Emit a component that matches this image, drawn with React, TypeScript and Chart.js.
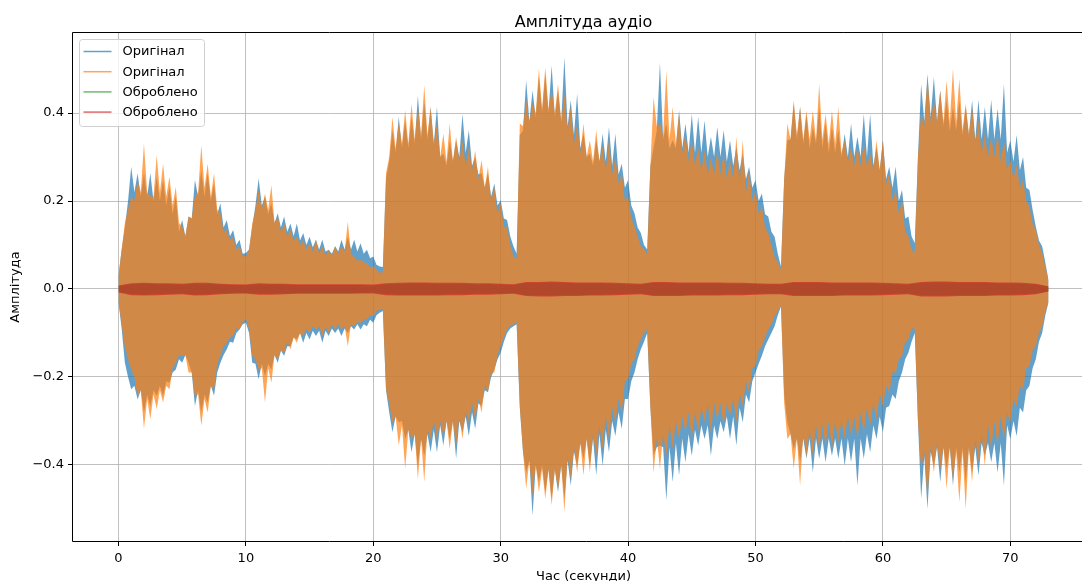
import React, { useEffect, useRef } from "react";
import { Chart, registerables } from "chart.js";

Chart.register(...registerables);

// ---- Data ----
// Sample times (s) of the spike-peak readings of the original signals
const TIME_PEAK = [
  0, 0.5, 1, 1.5, 2, 2.5, 3, 3.5, 4, 4.5,
  5, 5.5, 6, 6.5, 7, 7.5, 8, 8.5, 9, 9.5,
  10, 10.5, 11, 11.5, 12, 12.5, 13, 13.5, 14, 14.5,
  15, 15.5, 16, 16.5, 17, 17.5, 18, 18.5, 19, 19.5,
  20, 20.5, 21, 21.5, 22, 22.5, 23, 23.5, 24, 24.5,
  25, 25.5, 26, 26.5, 27, 27.5, 28, 28.5, 29, 29.5,
  30, 30.5, 31, 31.5, 32, 32.5, 33, 33.5, 34, 34.5,
  35, 35.5, 36, 36.5, 37, 37.5, 38, 38.5, 39, 39.5,
  40, 40.5, 41, 41.5, 42, 42.5, 43, 43.5, 44, 44.5,
  45, 45.5, 46, 46.5, 47, 47.5, 48, 48.5, 49, 49.5,
  50, 50.5, 51, 51.5, 52, 52.5, 53, 53.5, 54, 54.5,
  55, 55.5, 56, 56.5, 57, 57.5, 58, 58.5, 59, 59.5,
  60, 60.5, 61, 61.5, 62, 62.5, 63, 63.5, 64, 64.5,
  65, 65.5, 66, 66.5, 67, 67.5, 68, 68.5, 69, 69.5,
  70, 70.5, 71, 71.5, 72, 72.5, 73,
];
// Sample times (s) of the readings of the solid core between the spikes
const TIME_CORE = [
  0.25, 0.75, 1.25, 1.75, 2.25, 2.75, 3.25, 3.75, 4.25, 4.75,
  5.25, 5.75, 6.25, 6.75, 7.25, 7.75, 8.25, 8.75, 9.25, 9.75,
  10.25, 10.75, 11.25, 11.75, 12.25, 12.75, 13.25, 13.75, 14.25, 14.75,
  15.25, 15.75, 16.25, 16.75, 17.25, 17.75, 18.25, 18.75, 19.25, 19.75,
  20.25, 20.75, 21.25, 21.75, 22.25, 22.75, 23.25, 23.75, 24.25, 24.75,
  25.25, 25.75, 26.25, 26.75, 27.25, 27.75, 28.25, 28.75, 29.25, 29.75,
  30.25, 30.75, 31.25, 31.75, 32.25, 32.75, 33.25, 33.75, 34.25, 34.75,
  35.25, 35.75, 36.25, 36.75, 37.25, 37.75, 38.25, 38.75, 39.25, 39.75,
  40.25, 40.75, 41.25, 41.75, 42.25, 42.75, 43.25, 43.75, 44.25, 44.75,
  45.25, 45.75, 46.25, 46.75, 47.25, 47.75, 48.25, 48.75, 49.25, 49.75,
  50.25, 50.75, 51.25, 51.75, 52.25, 52.75, 53.25, 53.75, 54.25, 54.75,
  55.25, 55.75, 56.25, 56.75, 57.25, 57.75, 58.25, 58.75, 59.25, 59.75,
  60.25, 60.75, 61.25, 61.75, 62.25, 62.75, 63.25, 63.75, 64.25, 64.75,
  65.25, 65.75, 66.25, 66.75, 67.25, 67.75, 68.25, 68.75, 69.25, 69.75,
  70.25, 70.75, 71.25, 71.75, 72.25, 72.75,
];

// Original, channel 1 (blue)
const BLUE_PEAK_UP = [
  0.03, 0.14, 0.278, 0.263, 0.263, 0.263, 0.255, 0.248, 0.232, 0.21,
  0.157, 0.165, 0.248, 0.27, 0.263, 0.24, 0.195, 0.157, 0.134, 0.112,
  0.082, 0.142, 0.251, 0.21, 0.195, 0.172, 0.165, 0.149, 0.149, 0.127,
  0.119, 0.112, 0.112, 0.089, 0.097, 0.112, 0.119, 0.112, 0.104, 0.089,
  0.074, 0.051, 0.25, 0.361, 0.391, 0.383, 0.391, 0.44, 0.425, 0.414,
  0.414, 0.308, 0.338, 0.338, 0.398, 0.361, 0.3, 0.263, 0.263, 0.24,
  0.202, 0.157, 0.097, 0.35, 0.474, 0.451, 0.482, 0.489, 0.508, 0.451,
  0.527, 0.429, 0.444, 0.353, 0.308, 0.338, 0.353, 0.368, 0.353, 0.285,
  0.248, 0.172, 0.127, 0.09, 0.32, 0.515, 0.376, 0.338, 0.406, 0.376,
  0.398, 0.391, 0.383, 0.346, 0.368, 0.361, 0.338, 0.323, 0.308, 0.278,
  0.248, 0.217, 0.165, 0.119, 0.051, 0.338, 0.421, 0.414, 0.398, 0.368,
  0.414, 0.376, 0.368, 0.361, 0.353, 0.376, 0.346, 0.398, 0.398, 0.323,
  0.338, 0.278, 0.278, 0.225, 0.165, 0.104, 0.466, 0.489, 0.482, 0.451,
  0.429, 0.414, 0.429, 0.414, 0.429, 0.43, 0.414, 0.43, 0.41, 0.466,
  0.338, 0.35, 0.3, 0.225, 0.142, 0.097, 0.02,
];
const BLUE_CORE_UP = [
  0.09, 0.2, 0.22, 0.21, 0.21, 0.2, 0.2, 0.19, 0.17, 0.13,
  0.12, 0.16, 0.21, 0.21, 0.2, 0.17, 0.14, 0.12, 0.1, 0.08,
  0.09, 0.19, 0.19, 0.17, 0.15, 0.14, 0.13, 0.12, 0.11, 0.1,
  0.095, 0.09, 0.085, 0.08, 0.085, 0.09, 0.09, 0.085, 0.08, 0.07,
  0.055, 0.05, 0.29, 0.31, 0.32, 0.32, 0.33, 0.34, 0.34, 0.33,
  0.3, 0.28, 0.29, 0.3, 0.31, 0.28, 0.26, 0.23, 0.21, 0.19,
  0.16, 0.12, 0.08, 0.36, 0.38, 0.39, 0.4, 0.4, 0.39, 0.38,
  0.37, 0.35, 0.32, 0.3, 0.28, 0.29, 0.29, 0.28, 0.26, 0.23,
  0.19, 0.14, 0.1, 0.28, 0.36, 0.34, 0.32, 0.32, 0.32, 0.31,
  0.31, 0.31, 0.3, 0.3, 0.3, 0.29, 0.28, 0.27, 0.25, 0.23,
  0.2, 0.17, 0.13, 0.08, 0.25, 0.34, 0.34, 0.33, 0.32, 0.33,
  0.32, 0.31, 0.31, 0.3, 0.3, 0.3, 0.3, 0.3, 0.28, 0.27,
  0.25, 0.23, 0.2, 0.16, 0.12, 0.3, 0.38, 0.39, 0.38, 0.37,
  0.36, 0.36, 0.35, 0.35, 0.34, 0.34, 0.34, 0.34, 0.34, 0.31,
  0.29, 0.27, 0.23, 0.18, 0.11, 0.06,
];
const BLUE_PEAK_LO = [
  -0.03, -0.168, -0.228, -0.251, -0.281, -0.266, -0.243, -0.243, -0.213, -0.183,
  -0.168, -0.168, -0.266, -0.281, -0.258, -0.243, -0.168, -0.137, -0.122, -0.092,
  -0.077, -0.168, -0.205, -0.198, -0.183, -0.168, -0.152, -0.13, -0.115, -0.122,
  -0.115, -0.107, -0.122, -0.107, -0.1, -0.107, -0.1, -0.092, -0.092, -0.085,
  -0.077, -0.054, -0.23, -0.326, -0.303, -0.341, -0.371, -0.402, -0.379, -0.371,
  -0.371, -0.356, -0.341, -0.386, -0.326, -0.334, -0.318, -0.266, -0.235, -0.183,
  -0.145, -0.1, -0.085, -0.27, -0.417, -0.515, -0.439, -0.462, -0.477, -0.462,
  -0.477, -0.447, -0.402, -0.386, -0.402, -0.424, -0.402, -0.371, -0.334, -0.318,
  -0.25, -0.19, -0.137, -0.1, -0.379, -0.356, -0.481, -0.439, -0.424, -0.394,
  -0.379, -0.356, -0.341, -0.379, -0.341, -0.326, -0.341, -0.356, -0.303, -0.258,
  -0.19, -0.152, -0.115, -0.085, -0.04, -0.303, -0.364, -0.394, -0.386, -0.417,
  -0.386, -0.394, -0.379, -0.386, -0.402, -0.394, -0.447, -0.386, -0.371, -0.341,
  -0.326, -0.266, -0.25, -0.19, -0.145, -0.1, -0.477, -0.5, -0.402, -0.439,
  -0.409, -0.447, -0.417, -0.439, -0.417, -0.424, -0.379, -0.394, -0.417, -0.447,
  -0.341, -0.334, -0.281, -0.22, -0.16, -0.1, -0.03,
];
const BLUE_CORE_LO = [
  -0.09, -0.2, -0.22, -0.23, -0.24, -0.23, -0.22, -0.21, -0.19, -0.16,
  -0.15, -0.19, -0.23, -0.24, -0.22, -0.19, -0.15, -0.12, -0.1, -0.08,
  -0.1, -0.17, -0.17, -0.17, -0.15, -0.14, -0.13, -0.11, -0.1, -0.1,
  -0.095, -0.095, -0.095, -0.09, -0.09, -0.09, -0.085, -0.08, -0.08, -0.07,
  -0.06, -0.05, -0.28, -0.29, -0.3, -0.32, -0.33, -0.34, -0.33, -0.32,
  -0.31, -0.3, -0.3, -0.3, -0.29, -0.28, -0.26, -0.23, -0.2, -0.16,
  -0.12, -0.09, -0.08, -0.37, -0.39, -0.4, -0.4, -0.41, -0.41, -0.4,
  -0.39, -0.37, -0.35, -0.34, -0.34, -0.33, -0.32, -0.3, -0.28, -0.25,
  -0.21, -0.16, -0.12, -0.27, -0.36, -0.36, -0.36, -0.35, -0.34, -0.33,
  -0.32, -0.31, -0.31, -0.31, -0.3, -0.29, -0.29, -0.27, -0.24, -0.21,
  -0.17, -0.13, -0.1, -0.06, -0.24, -0.33, -0.34, -0.34, -0.34, -0.34,
  -0.34, -0.34, -0.34, -0.34, -0.34, -0.34, -0.34, -0.33, -0.31, -0.29,
  -0.27, -0.24, -0.21, -0.16, -0.12, -0.3, -0.38, -0.37, -0.36, -0.36,
  -0.36, -0.36, -0.36, -0.36, -0.36, -0.35, -0.35, -0.35, -0.35, -0.31,
  -0.3, -0.27, -0.23, -0.18, -0.12, -0.06,
];

// Original, channel 2 (orange)
const ORANGE_PEAK_UP = [
  0.03, 0.15, 0.21, 0.248, 0.331, 0.21, 0.304, 0.285, 0.255, 0.232,
  0.142, 0.165, 0.21, 0.327, 0.285, 0.263, 0.172, 0.134, 0.119, 0.097,
  0.074, 0.149, 0.225, 0.217, 0.236, 0.165, 0.149, 0.134, 0.119, 0.112,
  0.104, 0.112, 0.097, 0.089, 0.097, 0.097, 0.153, 0.074, 0.066, 0.059,
  0.051, 0.036, 0.263, 0.391, 0.376, 0.406, 0.421, 0.414, 0.463, 0.414,
  0.376, 0.353, 0.376, 0.346, 0.338, 0.323, 0.315, 0.293, 0.278, 0.232,
  0.195, 0.142, 0.074, 0.376, 0.429, 0.421, 0.5, 0.504, 0.451, 0.466,
  0.444, 0.414, 0.376, 0.376, 0.338, 0.361, 0.323, 0.338, 0.3, 0.263,
  0.21, 0.142, 0.097, 0.08, 0.436, 0.376, 0.497, 0.414, 0.398, 0.353,
  0.338, 0.323, 0.315, 0.3, 0.315, 0.308, 0.293, 0.346, 0.338, 0.27,
  0.225, 0.187, 0.127, 0.074, 0.045, 0.376, 0.429, 0.414, 0.406, 0.406,
  0.466, 0.398, 0.406, 0.414, 0.338, 0.323, 0.323, 0.331, 0.308, 0.338,
  0.338, 0.263, 0.225, 0.202, 0.12, 0.082, 0.398, 0.482, 0.429, 0.451,
  0.474, 0.5, 0.478, 0.421, 0.414, 0.383, 0.353, 0.346, 0.353, 0.338,
  0.293, 0.285, 0.248, 0.187, 0.134, 0.082, 0.02,
];
const ORANGE_CORE_UP = [
  0.09, 0.18, 0.2, 0.22, 0.22, 0.21, 0.22, 0.21, 0.19, 0.15,
  0.12, 0.16, 0.22, 0.23, 0.21, 0.18, 0.13, 0.11, 0.09, 0.075,
  0.09, 0.18, 0.18, 0.18, 0.15, 0.13, 0.12, 0.11, 0.1, 0.09,
  0.085, 0.08, 0.075, 0.075, 0.08, 0.085, 0.08, 0.065, 0.06, 0.05,
  0.045, 0.04, 0.3, 0.32, 0.33, 0.33, 0.34, 0.35, 0.35, 0.33,
  0.3, 0.29, 0.29, 0.29, 0.28, 0.27, 0.25, 0.23, 0.2, 0.17,
  0.14, 0.1, 0.07, 0.37, 0.38, 0.4, 0.41, 0.41, 0.4, 0.38,
  0.36, 0.33, 0.31, 0.3, 0.29, 0.29, 0.27, 0.26, 0.24, 0.2,
  0.16, 0.12, 0.09, 0.28, 0.37, 0.35, 0.34, 0.33, 0.31, 0.29,
  0.28, 0.27, 0.26, 0.26, 0.26, 0.25, 0.25, 0.24, 0.22, 0.2,
  0.17, 0.14, 0.1, 0.06, 0.25, 0.34, 0.35, 0.34, 0.34, 0.34,
  0.34, 0.33, 0.33, 0.31, 0.29, 0.28, 0.28, 0.28, 0.27, 0.27,
  0.24, 0.2, 0.17, 0.13, 0.09, 0.3, 0.37, 0.38, 0.38, 0.38,
  0.38, 0.38, 0.36, 0.35, 0.33, 0.31, 0.3, 0.3, 0.29, 0.27,
  0.25, 0.23, 0.2, 0.15, 0.1, 0.05,
];
const ORANGE_PEAK_LO = [
  -0.03, -0.13, -0.183, -0.243, -0.318, -0.296, -0.273, -0.258, -0.228, -0.168,
  -0.152, -0.19, -0.243, -0.311, -0.281, -0.228, -0.152, -0.122, -0.107, -0.092,
  -0.069, -0.152, -0.183, -0.258, -0.213, -0.16, -0.145, -0.137, -0.122, -0.107,
  -0.1, -0.092, -0.107, -0.1, -0.092, -0.092, -0.13, -0.085, -0.077, -0.069,
  -0.062, -0.047, -0.228, -0.303, -0.356, -0.409, -0.341, -0.432, -0.439, -0.341,
  -0.341, -0.334, -0.364, -0.356, -0.341, -0.303, -0.296, -0.281, -0.235, -0.19,
  -0.13, -0.092, -0.08, -0.266, -0.454, -0.469, -0.462, -0.477, -0.492, -0.454,
  -0.507, -0.432, -0.417, -0.424, -0.417, -0.379, -0.364, -0.341, -0.303, -0.281,
  -0.205, -0.16, -0.115, -0.092, -0.417, -0.409, -0.379, -0.364, -0.341, -0.326,
  -0.341, -0.326, -0.303, -0.326, -0.296, -0.311, -0.288, -0.303, -0.266, -0.235,
  -0.175, -0.13, -0.092, -0.062, -0.039, -0.341, -0.409, -0.447, -0.379, -0.379,
  -0.364, -0.356, -0.364, -0.349, -0.341, -0.334, -0.341, -0.326, -0.311, -0.296,
  -0.266, -0.235, -0.19, -0.152, -0.115, -0.09, -0.409, -0.477, -0.417, -0.409,
  -0.454, -0.432, -0.485, -0.5, -0.439, -0.394, -0.402, -0.364, -0.356, -0.341,
  -0.303, -0.266, -0.228, -0.175, -0.13, -0.085, -0.03,
];
const ORANGE_CORE_LO = [
  -0.08, -0.16, -0.2, -0.23, -0.25, -0.24, -0.23, -0.22, -0.18, -0.15,
  -0.15, -0.19, -0.24, -0.25, -0.22, -0.17, -0.13, -0.11, -0.09, -0.075,
  -0.09, -0.16, -0.18, -0.18, -0.15, -0.14, -0.12, -0.11, -0.1, -0.09,
  -0.085, -0.085, -0.085, -0.08, -0.08, -0.085, -0.08, -0.075, -0.07, -0.06,
  -0.05, -0.045, -0.26, -0.29, -0.31, -0.32, -0.33, -0.34, -0.32, -0.3,
  -0.3, -0.3, -0.3, -0.29, -0.28, -0.26, -0.25, -0.22, -0.19, -0.15,
  -0.11, -0.085, -0.075, -0.37, -0.39, -0.4, -0.41, -0.41, -0.41, -0.4,
  -0.38, -0.36, -0.35, -0.34, -0.33, -0.31, -0.29, -0.27, -0.25, -0.21,
  -0.17, -0.13, -0.1, -0.27, -0.34, -0.33, -0.31, -0.3, -0.29, -0.28,
  -0.28, -0.27, -0.26, -0.26, -0.26, -0.26, -0.25, -0.24, -0.21, -0.18,
  -0.14, -0.11, -0.08, -0.05, -0.26, -0.33, -0.34, -0.33, -0.32, -0.31,
  -0.31, -0.3, -0.3, -0.3, -0.29, -0.29, -0.28, -0.27, -0.26, -0.24,
  -0.22, -0.19, -0.16, -0.12, -0.09, -0.3, -0.37, -0.36, -0.35, -0.36,
  -0.36, -0.37, -0.37, -0.36, -0.34, -0.33, -0.31, -0.3, -0.29, -0.28,
  -0.25, -0.22, -0.18, -0.14, -0.1, -0.05,
];

// Sample times of the processed signals' envelope readings
const TIME_PROC = [
  0, 1, 2, 3, 4, 5, 6, 7, 8, 9,
  10, 11, 12, 13, 14, 15, 16, 17, 18, 19,
  20, 21, 22, 23, 24, 25, 26, 27, 28, 29,
  30, 31, 32, 33, 34, 35, 36, 37, 38, 39,
  40, 41, 42, 43, 44, 45, 46, 47, 48, 49,
  50, 51, 52, 53, 54, 55, 56, 57, 58, 59,
  60, 61, 62, 63, 64, 65, 66, 67, 68, 69,
  70, 71, 72, 73,
];
// Processed, channel 1 (green)
const GREEN_UPPER = [
  0.007, 0.011, 0.012, 0.011, 0.011, 0.010, 0.012, 0.012, 0.010, 0.009,
  0.009, 0.011, 0.010, 0.010, 0.009, 0.009, 0.009, 0.009, 0.009, 0.009,
  0.008, 0.011, 0.012, 0.013, 0.013, 0.012, 0.012, 0.012, 0.011, 0.011,
  0.010, 0.009, 0.014, 0.014, 0.015, 0.014, 0.013, 0.013, 0.013, 0.012,
  0.011, 0.010, 0.014, 0.014, 0.013, 0.013, 0.013, 0.013, 0.012, 0.012,
  0.011, 0.010, 0.010, 0.014, 0.014, 0.014, 0.013, 0.013, 0.013, 0.013,
  0.012, 0.011, 0.010, 0.014, 0.015, 0.015, 0.014, 0.014, 0.014, 0.013,
  0.013, 0.012, 0.010, 0.005,
];
const GREEN_LOWER = [
  -0.007, -0.012, -0.013, -0.012, -0.011, -0.010, -0.013, -0.012, -0.010, -0.009,
  -0.009, -0.011, -0.011, -0.010, -0.009, -0.009, -0.009, -0.009, -0.009, -0.009,
  -0.008, -0.012, -0.013, -0.013, -0.013, -0.013, -0.012, -0.012, -0.011, -0.011,
  -0.010, -0.009, -0.014, -0.015, -0.015, -0.014, -0.014, -0.013, -0.013, -0.012,
  -0.011, -0.010, -0.014, -0.014, -0.014, -0.013, -0.013, -0.013, -0.012, -0.012,
  -0.011, -0.010, -0.010, -0.014, -0.014, -0.014, -0.014, -0.013, -0.013, -0.013,
  -0.012, -0.011, -0.010, -0.015, -0.015, -0.015, -0.014, -0.014, -0.014, -0.013,
  -0.013, -0.012, -0.010, -0.005,
];
// Processed, channel 2 (red)
const RED_UPPER = [
  0.008, 0.013, 0.014, 0.013, 0.013, 0.012, 0.014, 0.014, 0.012, 0.011,
  0.010, 0.013, 0.012, 0.012, 0.011, 0.011, 0.011, 0.011, 0.011, 0.011,
  0.010, 0.013, 0.014, 0.015, 0.015, 0.014, 0.014, 0.014, 0.013, 0.013,
  0.012, 0.011, 0.016, 0.016, 0.017, 0.016, 0.015, 0.015, 0.015, 0.014,
  0.013, 0.012, 0.016, 0.016, 0.015, 0.015, 0.015, 0.015, 0.014, 0.014,
  0.013, 0.012, 0.012, 0.016, 0.016, 0.016, 0.015, 0.015, 0.015, 0.015,
  0.014, 0.013, 0.012, 0.016, 0.017, 0.017, 0.016, 0.016, 0.016, 0.015,
  0.015, 0.014, 0.012, 0.006,
];
const RED_LOWER = [
  -0.008, -0.014, -0.015, -0.014, -0.013, -0.012, -0.015, -0.014, -0.012, -0.011,
  -0.010, -0.013, -0.013, -0.012, -0.011, -0.011, -0.011, -0.011, -0.011, -0.010,
  -0.010, -0.014, -0.015, -0.015, -0.015, -0.015, -0.014, -0.014, -0.013, -0.013,
  -0.012, -0.011, -0.016, -0.017, -0.017, -0.016, -0.016, -0.015, -0.015, -0.014,
  -0.013, -0.012, -0.016, -0.016, -0.016, -0.015, -0.015, -0.015, -0.014, -0.014,
  -0.013, -0.012, -0.012, -0.016, -0.016, -0.016, -0.016, -0.015, -0.015, -0.015,
  -0.014, -0.013, -0.012, -0.017, -0.017, -0.017, -0.016, -0.016, -0.016, -0.015,
  -0.015, -0.014, -0.012, -0.006,
];

const X_TICKS = [0, 10, 20, 30, 40, 50, 60, 70];
const Y_TICKS = [-0.4, -0.2, 0, 0.2, 0.4];
const CANVAS_W = 1100; // drawn wider than the 1082 px window: the axes' right edge lies outside the picture
const X_MIN = -3.57;
const X_MAX = 77.04;
const X_FULL_MAX = 76.57; // matplotlib's right axis limit
const Y_MIN = -0.573;
const Y_MAX = 0.582;
const TITLE = "Амплітуда аудіо";
const X_LABEL = "Час (секунди)";
const Y_LABEL = "Амплітуда";
const LEGEND_LABELS = ["Оригінал", "Оригінал", "Оброблено", "Оброблено"];
const COLORS = [
  "rgba(31,119,180,0.7)",
  "rgba(255,127,14,0.7)",
  "rgba(44,160,44,0.7)",
  "rgba(214,39,40,0.7)",
];
const GRID_COLOR = "#b0b0b0";
const GRID_WIDTH = 0.8;

const FONT = "'DejaVu Sans', sans-serif";

function pts(t: number[], v: number[]) {
  return t.map((x, i) => ({ x, y: v[i] }));
}
function merged(tA: number[], vA: number[], tB: number[], vB: number[]) {
  const p = [...pts(tA, vA), ...pts(tB, vB)];
  p.sort((a, b) => a.x - b.x);
  return p;
}

function band(label: string, color: string, up: any[], lo: any[], upperIndex: number) {
  return [
    {
      label,
      data: up,
      borderColor: "transparent",
      backgroundColor: color,
      borderWidth: 1,
      pointRadius: 0,
      fill: false,
    },
    {
      label: label + " (min)",
      data: lo,
      borderColor: "transparent",
      backgroundColor: color,
      borderWidth: 1,
      pointRadius: 0,
      fill: { target: upperIndex },
    },
  ];
}

const textPlugin = {
  id: "mplTexts",
  afterDraw(chart: any) {
    const { ctx } = chart;
    const xs = chart.scales.x;
    const cx = xs.getPixelForValue((X_MIN + X_FULL_MAX) / 2);
    ctx.save();
    ctx.fillStyle = "#000";
    ctx.textAlign = "center";
    ctx.textBaseline = "alphabetic";
    ctx.font = `16px ${FONT}`;
    ctx.fillText(TITLE, cx, 26.5);
    ctx.font = `13px ${FONT}`;
    ctx.fillText(X_LABEL, cx, 579.5);
    ctx.restore();
  },
};

// spines: left, top and bottom (the right spine lies beyond the picture);
// a stray vertical mark near the picture's right edge is painted out between the grid lines
const framePlugin = {
  id: "mplFrame",
  afterDatasetsDraw(chart: any) {
    const { ctx, chartArea } = chart;
    const ys = chart.scales.y;
    const l = Math.round(chartArea.left) - 0.5;
    const t = Math.round(chartArea.top) - 0.5;
    const b = Math.round(chartArea.bottom) + 0.5;
    const r = 1200;
    ctx.save();
    ctx.fillStyle = "#fff";
    const rows = Y_TICKS.map((v) => Math.floor(ys.getPixelForValue(v))).sort((a, c) => a - c);
    let start = Math.ceil(t) + 1;
    rows.forEach((row) => {
      const end = row - 1;
      if (end > start) ctx.fillRect(1074, start, 60, end - start);
      start = row + 2;
    });
    const last = Math.floor(b) - 1;
    if (last > start) ctx.fillRect(1074, start, 60, last - start);
    ctx.strokeStyle = "#000";
    ctx.lineWidth = 1;
    ctx.beginPath();
    ctx.moveTo(r, t);
    ctx.lineTo(l, t);
    ctx.lineTo(l, b);
    ctx.lineTo(r, b);
    ctx.stroke();
    ctx.restore();
  },
};

const legendPlugin = {
  id: "mplLegend",
  afterDraw(chart: any) {
    const { ctx, chartArea } = chart;
    const x0 = chartArea.left + 6.5;
    const y0 = chartArea.top + 6.5;
    const w = 125;
    const h = 87;
    const r = 3;
    ctx.save();
    ctx.beginPath();
    ctx.moveTo(x0 + r, y0);
    ctx.arcTo(x0 + w, y0, x0 + w, y0 + h, r);
    ctx.arcTo(x0 + w, y0 + h, x0, y0 + h, r);
    ctx.arcTo(x0, y0 + h, x0, y0, r);
    ctx.arcTo(x0, y0, x0 + w, y0, r);
    ctx.closePath();
    ctx.fillStyle = "rgba(255,255,255,0.8)";
    ctx.fill();
    ctx.strokeStyle = "#d0d0d0";
    ctx.lineWidth = 1;
    ctx.stroke();
    ctx.font = `13px ${FONT}`;
    ctx.textBaseline = "middle";
    ctx.textAlign = "left";
    LEGEND_LABELS.forEach((lab, i) => {
      const y = y0 + 12 + i * 20.2;
      ctx.strokeStyle = COLORS[i];
      ctx.lineWidth = 1.5;
      ctx.beginPath();
      ctx.moveTo(x0 + 4, y);
      ctx.lineTo(x0 + 32, y);
      ctx.stroke();
      ctx.fillStyle = "#000";
      ctx.fillText(lab, x0 + 43, y + 0.5);
    });
    ctx.restore();
  },
};

function fmtY(v: number) {
  if (Math.abs(v) < 1e-9) return "0.0";
  return (v < 0 ? "\u2212" : "") + Math.abs(v).toFixed(1);
}

export default function App() {
  const ref = useRef<HTMLCanvasElement>(null);

  useEffect(() => {
    if (!ref.current) return;
    const datasets = [
      ...band(LEGEND_LABELS[3], COLORS[3], pts(TIME_PROC, RED_UPPER), pts(TIME_PROC, RED_LOWER), 0),
      ...band(LEGEND_LABELS[2], COLORS[2], pts(TIME_PROC, GREEN_UPPER), pts(TIME_PROC, GREEN_LOWER), 2),
      ...band(
        LEGEND_LABELS[1],
        COLORS[1],
        merged(TIME_PEAK, ORANGE_PEAK_UP, TIME_CORE, ORANGE_CORE_UP),
        merged(TIME_PEAK, ORANGE_PEAK_LO, TIME_CORE, ORANGE_CORE_LO),
        4
      ),
      ...band(
        LEGEND_LABELS[0],
        COLORS[0],
        merged(TIME_PEAK, BLUE_PEAK_UP, TIME_CORE, BLUE_CORE_UP),
        merged(TIME_PEAK, BLUE_PEAK_LO, TIME_CORE, BLUE_CORE_LO),
        6
      ),
    ];
    const gridCommon = {
      color: GRID_COLOR,
      lineWidth: GRID_WIDTH,
      drawTicks: true,
      tickLength: 5,
      tickColor: "#000",
      tickWidth: 1,
    };
    const chart = new Chart(ref.current, {
      type: "line",
      data: { datasets: datasets as any },
      options: {
        responsive: false,
        animation: false,
        events: [],
        layout: { padding: { top: 33, right: 0, left: 0, bottom: 0 } },
        elements: { point: { radius: 0 }, line: { tension: 0 } },
        plugins: {
          legend: { display: false },
          title: { display: false },
          tooltip: { enabled: false },
          filler: { propagate: false },
        },
        scales: {
          x: {
            type: "linear",
            min: X_MIN,
            max: X_MAX,
            afterBuildTicks: (s: any) => {
              s.ticks = X_TICKS.map((value) => ({ value }));
            },
            afterFit: (s: any) => {
              s.height = 40;
            },
            grid: gridCommon,
            border: { display: false },
            ticks: {
              autoSkip: false,
              maxRotation: 0,
              padding: 5,
              color: "#000",
              font: { family: FONT, size: 13 },
              callback: (v: any) => String(v),
            },
            title: { display: false },
          },
          y: {
            type: "linear",
            min: Y_MIN,
            max: Y_MAX,
            afterBuildTicks: (s: any) => {
              s.ticks = Y_TICKS.map((value) => ({ value }));
            },
            afterFit: (s: any) => {
              s.width = 73;
            },
            grid: gridCommon,
            border: { display: false },
            ticks: {
              autoSkip: false,
              padding: 4,
              color: "#000",
              font: { family: FONT, size: 13 },
              callback: (v: any) => fmtY(Number(v)),
            },
            title: {
              display: true,
              text: Y_LABEL,
              color: "#000",
              font: { family: FONT, size: 13 },
              padding: { top: 8, bottom: 0 },
            },
          },
        },
      },
      plugins: [textPlugin, framePlugin, legendPlugin],
    });
    return () => chart.destroy();
  }, []);

  return (
    <div
      style={{
        position: "fixed",
        left: 0,
        top: 0,
        width: 1082,
        height: 581,
        overflow: "hidden",
        background: "#fff",
      }}
    >
      <canvas
        ref={ref}
        width={CANVAS_W}
        height={581}
        style={{ display: "block", width: CANVAS_W, height: 581 }}
      />
    </div>
  );
}
